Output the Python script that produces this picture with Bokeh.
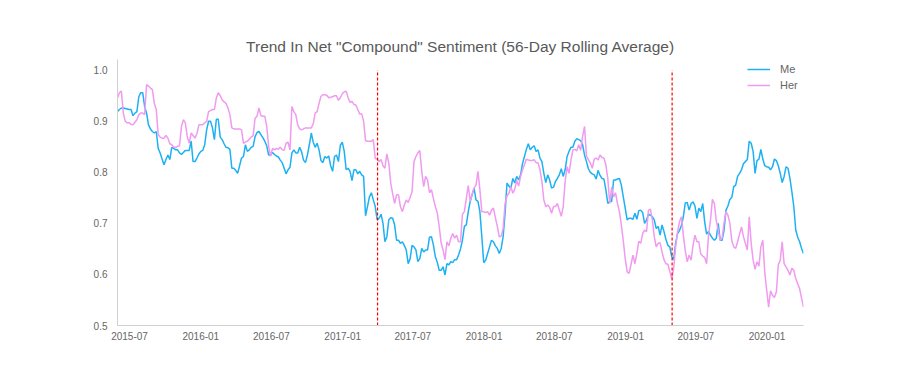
import pandas as pd
from bokeh.plotting import figure
from bokeh.models import (FixedTicker, DatetimeTickFormatter, PrintfTickFormatter,
                          Range1d, Legend, LegendItem)
from bokeh.embed import file_html
from bokeh.resources import INLINE

# ---- data (one value every 5 days) ----
start_date = "2015-05-31"
step_days = 5

me = [
    0.919, 0.923, 0.926, 0.926, 0.925, 0.924, 0.923, 0.923, 0.911, 0.916,
    0.919, 0.948, 0.956, 0.956, 0.929, 0.916, 0.893, 0.885, 0.880, 0.877,
    0.880, 0.847, 0.838, 0.826, 0.815, 0.825, 0.834, 0.825, 0.849, 0.847,
    0.844, 0.844, 0.838, 0.835, 0.839, 0.843, 0.843, 0.843, 0.861, 0.821,
    0.821, 0.828, 0.836, 0.841, 0.843, 0.854, 0.883, 0.900, 0.900, 0.887,
    0.864, 0.904, 0.904, 0.869, 0.864, 0.856, 0.849, 0.848, 0.845, 0.808,
    0.808, 0.804, 0.798, 0.813, 0.828, 0.831, 0.854, 0.841, 0.844, 0.849,
    0.851, 0.870, 0.878, 0.880, 0.874, 0.868, 0.861, 0.852, 0.834, 0.834,
    0.839, 0.835, 0.832, 0.830, 0.824, 0.819, 0.808, 0.797, 0.805, 0.810,
    0.838, 0.844, 0.838, 0.838, 0.849, 0.840, 0.824, 0.819, 0.834, 0.854,
    0.877, 0.859, 0.849, 0.857, 0.844, 0.823, 0.819, 0.831, 0.828, 0.832,
    0.813, 0.802, 0.831, 0.834, 0.821, 0.853, 0.859, 0.841, 0.805, 0.808,
    0.802, 0.784, 0.805, 0.805, 0.797, 0.802, 0.795, 0.792, 0.715, 0.733,
    0.752, 0.760, 0.746, 0.733, 0.707, 0.710, 0.718, 0.700, 0.664, 0.674,
    0.707, 0.711, 0.710, 0.697, 0.667, 0.667, 0.661, 0.664, 0.657, 0.648,
    0.621, 0.631, 0.657, 0.654, 0.648, 0.625, 0.631, 0.651, 0.644, 0.648,
    0.648, 0.673, 0.674, 0.658, 0.635, 0.624, 0.608, 0.608, 0.615, 0.599,
    0.621, 0.619, 0.625, 0.623, 0.629, 0.629, 0.638, 0.650,
    0.667, 0.694, 0.697, 0.723, 0.743, 0.756, 0.769, 0.746, 0.743, 0.723,
    0.674, 0.623, 0.628, 0.641, 0.654, 0.667, 0.664, 0.656, 0.651, 0.641,
    0.651, 0.674, 0.720, 0.779, 0.773, 0.769, 0.788, 0.779, 0.792, 0.785,
    0.795, 0.817, 0.831, 0.845, 0.856, 0.844, 0.849, 0.852, 0.841, 0.844,
    0.828, 0.821, 0.798, 0.780, 0.795, 0.785, 0.769, 0.771, 0.782, 0.788,
    0.795, 0.807, 0.792, 0.805, 0.831, 0.841, 0.849, 0.849,
    0.861, 0.866, 0.864, 0.862, 0.854, 0.834, 0.821, 0.807, 0.800, 0.797,
    0.795, 0.787, 0.804, 0.794, 0.788, 0.787, 0.766, 0.739, 0.743, 0.743,
    0.785, 0.785, 0.787, 0.788, 0.775, 0.752, 0.730, 0.707, 0.710, 0.710,
    0.708, 0.720, 0.708, 0.725, 0.726, 0.721, 0.700, 0.707, 0.718, 0.716,
    0.713, 0.707, 0.690, 0.694, 0.677, 0.697, 0.684, 0.669, 0.657, 0.654,
    0.635, 0.629, 0.661, 0.680, 0.686, 0.696, 0.713, 0.740, 0.741, 0.726,
    0.739, 0.742, 0.734, 0.710, 0.730, 0.723, 0.739, 0.703, 0.679, 0.684,
    0.677, 0.671, 0.667, 0.671, 0.700, 0.667, 0.667, 0.687, 0.726, 0.734,
    0.747, 0.751, 0.772, 0.775, 0.792, 0.798, 0.805, 0.817, 0.821, 0.825,
    0.861, 0.857, 0.841, 0.798, 0.823, 0.826, 0.845, 0.826, 0.813, 0.811,
    0.810, 0.805, 0.811, 0.826, 0.823, 0.813, 0.798, 0.780, 0.792, 0.811,
    0.808, 0.788, 0.762, 0.733, 0.687, 0.673, 0.664, 0.651, 0.641,
]

her = [
    0.946, 0.956, 0.959, 0.916, 0.900, 0.897, 0.897, 0.894, 0.893, 0.898,
    0.903, 0.913, 0.916, 0.916, 0.913, 0.972, 0.969, 0.965, 0.962, 0.935,
    0.923, 0.874, 0.869, 0.867, 0.867, 0.872, 0.867, 0.856, 0.854, 0.849,
    0.849, 0.851, 0.852, 0.890, 0.903, 0.897, 0.870, 0.857, 0.877, 0.872,
    0.867, 0.876, 0.893, 0.893, 0.893, 0.897, 0.900, 0.919, 0.921, 0.923,
    0.923, 0.946, 0.956, 0.950, 0.942, 0.938, 0.935, 0.926, 0.913, 0.887,
    0.885, 0.885, 0.885, 0.885, 0.883, 0.857, 0.859, 0.861, 0.865, 0.869,
    0.872, 0.906, 0.910, 0.926, 0.911, 0.910, 0.910, 0.890, 0.851, 0.832,
    0.847, 0.844, 0.847, 0.845, 0.849, 0.844, 0.843, 0.857, 0.859, 0.844,
    0.929, 0.919, 0.913, 0.893, 0.885, 0.883, 0.885, 0.887, 0.887, 0.887,
    0.887, 0.895, 0.916, 0.919, 0.935, 0.949, 0.952, 0.952, 0.951, 0.946,
    0.947, 0.948, 0.950, 0.950, 0.941, 0.946, 0.954, 0.958, 0.959, 0.946,
    0.937, 0.939, 0.933, 0.932, 0.923, 0.914, 0.915, 0.900, 0.862, 0.861,
    0.861, 0.861, 0.864, 0.827, 0.826, 0.821, 0.825, 0.813, 0.808, 0.836,
    0.818, 0.779, 0.758, 0.739, 0.756, 0.756, 0.733, 0.723, 0.736, 0.746,
    0.741, 0.751, 0.762, 0.821, 0.831, 0.838, 0.843, 0.802, 0.772, 0.792,
    0.785, 0.760, 0.766, 0.749, 0.733, 0.721, 0.694, 0.662, 0.648, 0.629,
    0.664, 0.656, 0.671, 0.680, 0.671, 0.677, 0.664, 0.664,
    0.718, 0.723, 0.749, 0.774, 0.743, 0.758, 0.769, 0.775, 0.802, 0.766,
    0.723, 0.723, 0.721, 0.723, 0.716, 0.726, 0.730, 0.711, 0.694, 0.674,
    0.675, 0.690, 0.739, 0.754, 0.759, 0.772, 0.759, 0.767, 0.784, 0.773,
    0.792, 0.805, 0.815, 0.826, 0.824, 0.823, 0.823, 0.825, 0.819, 0.819,
    0.805, 0.782, 0.746, 0.733, 0.736, 0.731, 0.720, 0.733, 0.733, 0.739,
    0.726, 0.714, 0.733, 0.782, 0.811, 0.798, 0.824, 0.844,
    0.845, 0.842, 0.854, 0.843, 0.870, 0.890, 0.832, 0.825, 0.818, 0.808,
    0.826, 0.828, 0.824, 0.834, 0.829, 0.828, 0.815, 0.788, 0.739, 0.771,
    0.752, 0.760, 0.739, 0.723, 0.697, 0.666, 0.631, 0.605, 0.602, 0.620,
    0.638, 0.621, 0.641, 0.665, 0.661, 0.680, 0.687, 0.684, 0.726, 0.728,
    0.707, 0.674, 0.654, 0.661, 0.662, 0.644, 0.629, 0.621, 0.620, 0.606,
    0.592, 0.612, 0.654, 0.683, 0.703, 0.713, 0.677, 0.646, 0.625, 0.638,
    0.628, 0.657, 0.677, 0.664, 0.664, 0.640, 0.636, 0.633, 0.621, 0.677,
    0.707, 0.747, 0.739, 0.705, 0.687, 0.667, 0.671, 0.701, 0.723, 0.716,
    0.700, 0.666, 0.654, 0.651, 0.664, 0.679, 0.693, 0.674, 0.661, 0.648,
    0.713, 0.661, 0.628, 0.610, 0.625, 0.616, 0.654, 0.667, 0.605, 0.569,
    0.536, 0.568, 0.559, 0.555, 0.566, 0.619, 0.628, 0.664, 0.621, 0.615,
    0.608, 0.599, 0.612, 0.608, 0.592, 0.582, 0.572, 0.553, 0.536,
]

series_names = ["Me", "Her"]
series_colors = ["#1db1f3", "#f09af0"]

event_dates = ["2017-04-01", "2019-05-01"]
event_low = [0.5, 0.5]
event_high = [1.0, 1.0]

x_tick_labels = ["2015-07", "2016-01", "2016-07", "2017-01", "2017-07",
                 "2018-01", "2018-07", "2019-01", "2019-07", "2020-01"]
y_ticks = [0.5, 0.6, 0.7, 0.8, 0.9, 1.0]
y_limits = (0.5, 1.021)

title_text = 'Trend In Net "Compound" Sentiment (56-Day Rolling Average)'

# ---- build ----
dates = pd.date_range(start_date, periods=len(me), freq=f"{step_days}D")
FONT = "Liberation Sans"

p = figure(width=884, height=365, x_axis_type="datetime",
           output_backend="svg", toolbar_location=None,
           x_range=Range1d(dates[0].to_pydatetime(), dates[-1].to_pydatetime()),
           y_range=Range1d(*y_limits),
           min_border_left=117, min_border_right=81,
           min_border_top=59, min_border_bottom=40)

p.title.text = title_text
p.title.align = "center"
p.title.text_font = FONT
p.title.text_font_size = "15.5px"
p.title.text_font_style = "normal"
p.title.text_color = "#595959"

p.grid.visible = False
p.outline_line_color = None
p.background_fill_color = "white"
p.border_fill_color = "white"

tick_ms = [pd.Timestamp(t + "-01").value // 10**6 for t in x_tick_labels]
p.xaxis.ticker = FixedTicker(ticks=tick_ms)
fmt = "%Y-%m"
p.xaxis.formatter = DatetimeTickFormatter(
    microseconds=fmt, milliseconds=fmt, seconds=fmt, minsec=fmt, minutes=fmt,
    hourmin=fmt, hours=fmt, days=fmt, months=fmt, years=fmt)
p.yaxis.ticker = FixedTicker(ticks=y_ticks)
p.yaxis.formatter = PrintfTickFormatter(format="%.1f")

for ax in (p.xaxis[0], p.yaxis[0]):
    ax.axis_line_color = "#d0d0d0"
    ax.axis_line_width = 1
    ax.major_tick_line_color = None
    ax.minor_tick_line_color = None
    ax.major_tick_out = 0
    ax.major_tick_in = 0
    ax.major_label_text_font = FONT
    ax.major_label_text_font_size = "10px"
    ax.major_label_text_color = "#666666"
p.yaxis.major_label_standoff = 10
p.xaxis.major_label_standoff = 6

renderers = []
for vals, name, col in zip([me, her], series_names, series_colors):
    r = p.line(dates, vals, line_color=col, line_width=1.5)
    renderers.append((name, r))

for d, lo, hi in zip(event_dates, event_low, event_high):
    t = pd.Timestamp(d)
    p.segment(x0=[t], x1=[t], y0=[lo], y1=[hi],
              line_color="#ff0000", line_width=1.2, line_dash="3 2")

legend = Legend(items=[LegendItem(label=n, renderers=[r]) for n, r in renderers],
                location="top_right")
legend.border_line_color = None
legend.background_fill_alpha = 0
legend.label_text_font = FONT
legend.label_text_font_size = "11px"
legend.label_text_color = "#666666"
legend.glyph_width = 23
legend.glyph_height = 14
legend.label_height = 14
legend.spacing = 2
legend.padding = 8
legend.margin = 3
legend.label_standoff = 10
p.add_layout(legend)

open("out.html", "w").write(file_html(p, INLINE))
